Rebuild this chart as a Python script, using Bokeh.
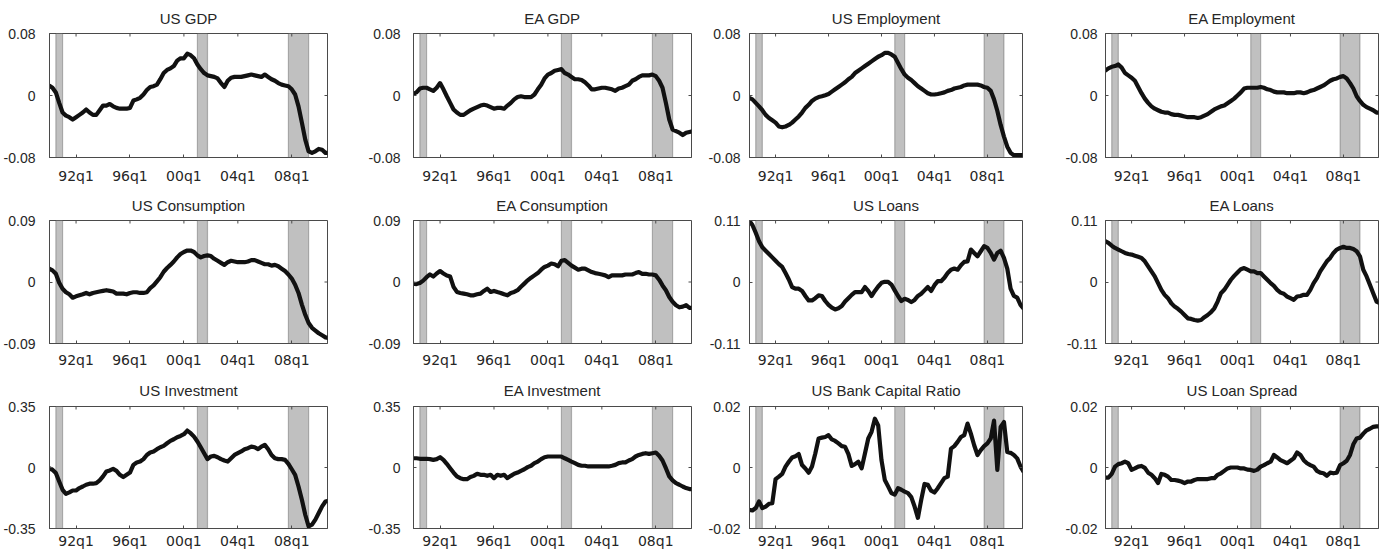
from bokeh.plotting import figure
from bokeh.models import FixedTicker, LinearAxis, BoxAnnotation, Range1d
from bokeh.layouts import column, row
from bokeh.embed import file_html
from bokeh.resources import INLINE

# ---------------- data ----------------
# quarterly observations 1990q1 ... 2010q4 (x as decimal years)
years = list(range(1990, 2011))
dates = [y + q / 4 for y in years for q in range(4)]

titles = ["US GDP", "EA GDP", "US Employment", "EA Employment",
          "US Consumption", "EA Consumption", "US Loans", "EA Loans",
          "US Investment", "EA Investment", "US Bank Capital Ratio", "US Loan Spread"]
y_limits = [0.08, 0.08, 0.08, 0.08, 0.09, 0.09, 0.11, 0.11, 0.35, 0.35, 0.02, 0.02]
y_tick_labels = [["-0.08", "0", "0.08"]] * 4 + [["-0.09", "0", "0.09"]] * 2 + \
                [["-0.11", "0", "0.11"]] * 2 + [["-0.35", "0", "0.35"]] * 2 + \
                [["-0.02", "0", "0.02"]] * 2

x_tick_values = [1992, 1996, 2000, 2004, 2008]
x_tick_labels = ["92q1", "96q1", "00q1", "04q1", "08q1"]

# recession periods (start / end)
rec_start = [1990.5, 2001.0, 2007.75]
rec_end = [1991.0, 2001.75, 2009.25]

us_gdp = [0.013, 0.010, 0.004, -0.0095,
          -0.022, -0.026, -0.028, -0.031,
          -0.028, -0.025, -0.022, -0.018,
          -0.022, -0.025, -0.025, -0.019,
          -0.013, -0.013, -0.011, -0.014,
          -0.016, -0.017, -0.017, -0.017,
          -0.016, -0.0065, -0.005, -0.003,
          0.0013, 0.007, 0.011, 0.012,
          0.014, 0.021, 0.029, 0.033,
          0.035, 0.038, 0.045, 0.048,
          0.048, 0.054, 0.052, 0.048,
          0.040, 0.034, 0.029, 0.026,
          0.025, 0.024, 0.022, 0.016,
          0.011, 0.019, 0.023, 0.024,
          0.024, 0.024, 0.025, 0.026,
          0.027, 0.026, 0.025, 0.024,
          0.027, 0.024, 0.021, 0.019,
          0.016, 0.014, 0.013, 0.012,
          0.008, 0.0013, -0.014, -0.035,
          -0.057, -0.072, -0.074, -0.072,
          -0.069, -0.070, -0.074, -0.074]

ea_gdp = [0.002, 0.004, 0.009, 0.010,
          0.010, 0.008, 0.006, 0.010,
          0.016, 0.008, -0.001, -0.0095,
          -0.018, -0.022, -0.025, -0.025,
          -0.022, -0.019, -0.017, -0.015,
          -0.013, -0.012, -0.013, -0.015,
          -0.017, -0.016, -0.016, -0.017,
          -0.013, -0.0095, -0.005, -0.002,
          -0.001, -0.002, -0.002, -0.002,
          0.0013, 0.008, 0.014, 0.022,
          0.027, 0.029, 0.032, 0.033,
          0.034, 0.029, 0.027, 0.024,
          0.021, 0.021, 0.020, 0.017,
          0.013, 0.008, 0.008, 0.009,
          0.010, 0.010, 0.009, 0.008,
          0.006, 0.009, 0.010, 0.012,
          0.014, 0.019, 0.021, 0.024,
          0.026, 0.026, 0.026, 0.027,
          0.025, 0.019, 0.010, -0.0095,
          -0.031, -0.044, -0.046, -0.048,
          -0.051, -0.048, -0.047, -0.046]

us_emp = [-0.003, -0.005, -0.0095, -0.014,
          -0.019, -0.025, -0.029, -0.032,
          -0.035, -0.040, -0.041, -0.040,
          -0.038, -0.035, -0.031, -0.027,
          -0.022, -0.016, -0.012, -0.007,
          -0.004, -0.002, -0.001, 0.0004,
          0.002, 0.005, 0.008, 0.011,
          0.014, 0.017, 0.021, 0.024,
          0.029, 0.032, 0.035, 0.038,
          0.041, 0.044, 0.047, 0.050,
          0.052, 0.055, 0.055, 0.053,
          0.050, 0.042, 0.034, 0.027,
          0.023, 0.020, 0.016, 0.012,
          0.009, 0.006, 0.003, 0.0013,
          0.0013, 0.002, 0.003, 0.004,
          0.006, 0.007, 0.009, 0.010,
          0.011, 0.013, 0.014, 0.014,
          0.014, 0.014, 0.013, 0.011,
          0.010, 0.006, -0.005, -0.020,
          -0.038, -0.053, -0.066, -0.074,
          -0.077, -0.077, -0.077, -0.077]

ea_emp = [0.032, 0.035, 0.037, 0.038,
          0.040, 0.036, 0.029, 0.026,
          0.023, 0.019, 0.011, 0.003,
          -0.004, -0.0095, -0.014, -0.017,
          -0.019, -0.021, -0.022, -0.022,
          -0.024, -0.025, -0.025, -0.026,
          -0.027, -0.028, -0.028, -0.028,
          -0.029, -0.028, -0.026, -0.024,
          -0.021, -0.018, -0.016, -0.014,
          -0.013, -0.010, -0.007, -0.004,
          0.000, 0.004, 0.009, 0.010,
          0.010, 0.010, 0.010, 0.011,
          0.010, 0.008, 0.007, 0.005,
          0.004, 0.004, 0.004, 0.003,
          0.003, 0.003, 0.004, 0.004,
          0.003, 0.004, 0.006, 0.007,
          0.009, 0.011, 0.013, 0.016,
          0.019, 0.021, 0.022, 0.024,
          0.025, 0.022, 0.016, 0.009,
          -0.001, -0.007, -0.012, -0.015,
          -0.017, -0.019, -0.022, -0.022]

us_cons = [0.0195, 0.017, 0.012, -0.001,
           -0.010, -0.015, -0.018, -0.023,
           -0.021, -0.0195, -0.018, -0.016,
           -0.018, -0.016, -0.015, -0.014,
           -0.013, -0.012, -0.013, -0.014,
           -0.017, -0.017, -0.017, -0.018,
           -0.016, -0.015, -0.015, -0.016,
           -0.016, -0.015, -0.009, -0.005,
           0.001, 0.007, 0.015, 0.0205,
           0.025, 0.030, 0.036, 0.041,
           0.044, 0.046, 0.046, 0.044,
           0.039, 0.036, 0.038, 0.039,
           0.038, 0.034, 0.031, 0.028,
           0.025, 0.029, 0.031, 0.030,
           0.029, 0.029, 0.029, 0.030,
           0.032, 0.032, 0.030, 0.028,
           0.026, 0.026, 0.024, 0.025,
           0.023, 0.0195, 0.016, 0.011,
           0.005, -0.004, -0.016, -0.033,
           -0.048, -0.060, -0.067, -0.071,
           -0.075, -0.078, -0.081, -0.082]

ea_cons = [-0.0024, -0.003, -0.0015, 0.002,
           0.007, 0.011, 0.008, 0.0125,
           0.016, 0.0125, 0.0095, 0.008,
           -0.007, -0.0146, -0.016, -0.017,
           -0.018, -0.0195, -0.0195, -0.018,
           -0.017, -0.013, -0.0097, -0.0146,
           -0.013, -0.0146, -0.016, -0.018,
           -0.0195, -0.016, -0.0146, -0.012,
           -0.007, -0.0024, 0.0024, 0.0063,
           0.0097, 0.013, 0.018, 0.022,
           0.024, 0.027, 0.026, 0.023,
           0.031, 0.032, 0.028, 0.024,
           0.021, 0.018, 0.0195, 0.0195,
           0.017, 0.0146, 0.013, 0.012,
           0.011, 0.0097, 0.007, 0.0097,
           0.0097, 0.0097, 0.0097, 0.011,
           0.011, 0.011, 0.013, 0.0146,
           0.012, 0.012, 0.011, 0.011,
           0.0097, 0.0034, -0.005, -0.012,
           -0.022, -0.029, -0.034, -0.037,
           -0.036, -0.034, -0.038, -0.038]

us_loans = [0.110, 0.102, 0.088, 0.073,
            0.062, 0.056, 0.050, 0.044,
            0.038, 0.032, 0.027, 0.016,
            0.0045, -0.009, -0.012, -0.012,
            -0.016, -0.025, -0.033, -0.033,
            -0.029, -0.024, -0.025, -0.034,
            -0.041, -0.046, -0.049, -0.047,
            -0.043, -0.035, -0.029, -0.023,
            -0.018, -0.018, -0.018, -0.009,
            -0.016, -0.025, -0.016, -0.008,
            -0.0015, 0.0003, 0.0003, -0.0045,
            -0.015, -0.025, -0.034, -0.030,
            -0.032, -0.036, -0.032, -0.025,
            -0.021, -0.015, -0.009, -0.016,
            -0.0057, 0.0015, 0.0015, 0.0075,
            0.016, 0.022, 0.024, 0.022,
            0.030, 0.036, 0.037, 0.058,
            0.052, 0.046, 0.055, 0.064,
            0.061, 0.052, 0.040, 0.052,
            0.056, 0.043, 0.024, -0.012,
            -0.025, -0.028, -0.041, -0.048]

ea_loans = [0.073, 0.070, 0.065, 0.061,
            0.058, 0.055, 0.052, 0.050,
            0.049, 0.047, 0.045, 0.043,
            0.037, 0.028, 0.019, 0.010,
            -0.002, -0.014, -0.023, -0.029,
            -0.038, -0.044, -0.048, -0.053,
            -0.059, -0.065, -0.066, -0.068,
            -0.069, -0.068, -0.063, -0.059,
            -0.054, -0.047, -0.035, -0.020,
            -0.014, -0.005, 0.004, 0.011,
            0.017, 0.023, 0.025, 0.022,
            0.019, 0.019, 0.016, 0.016,
            0.010, 0.004, -0.002, -0.007,
            -0.014, -0.019, -0.021, -0.026,
            -0.029, -0.032, -0.026, -0.025,
            -0.023, -0.023, -0.014, -0.002,
            0.007, 0.019, 0.028, 0.037,
            0.043, 0.052, 0.058, 0.061,
            0.063, 0.061, 0.061, 0.059,
            0.055, 0.046, 0.022, 0.010,
            -0.005, -0.020, -0.035, -0.038]

us_inv = [-0.004, -0.013, -0.032, -0.080,
          -0.128, -0.151, -0.143, -0.132,
          -0.132, -0.118, -0.109, -0.099,
          -0.093, -0.093, -0.090, -0.074,
          -0.051, -0.023, -0.017, -0.008,
          -0.019, -0.042, -0.055, -0.042,
          -0.029, 0.015, 0.029, 0.034,
          0.048, 0.072, 0.086, 0.092,
          0.105, 0.116, 0.124, 0.139,
          0.153, 0.162, 0.174, 0.181,
          0.191, 0.212, 0.197, 0.177,
          0.149, 0.116, 0.082, 0.048,
          0.063, 0.067, 0.059, 0.048,
          0.040, 0.034, 0.053, 0.072,
          0.082, 0.092, 0.105, 0.111,
          0.120, 0.116, 0.105, 0.120,
          0.130, 0.105, 0.072, 0.053,
          0.048, 0.048, 0.044, 0.021,
          -0.010, -0.042, -0.109, -0.185,
          -0.271, -0.338, -0.328, -0.299,
          -0.261, -0.223, -0.195, -0.190]

ea_inv = [0.053, 0.053, 0.050, 0.050,
          0.050, 0.048, 0.044, 0.048,
          0.059, 0.044, 0.021, -0.004,
          -0.029, -0.051, -0.061, -0.067,
          -0.067, -0.055, -0.048, -0.036,
          -0.042, -0.042, -0.048, -0.042,
          -0.061, -0.042, -0.048, -0.042,
          -0.061, -0.048, -0.036, -0.029,
          -0.019, -0.010, 0.002, 0.010,
          0.025, 0.034, 0.048, 0.059,
          0.063, 0.063, 0.063, 0.063,
          0.063, 0.053, 0.044, 0.034,
          0.025, 0.015, 0.010, 0.010,
          0.006, 0.006, 0.006, 0.006,
          0.006, 0.006, 0.006, 0.010,
          0.015, 0.025, 0.029, 0.029,
          0.040, 0.048, 0.063, 0.072,
          0.078, 0.082, 0.078, 0.082,
          0.086, 0.067, 0.040, -0.004,
          -0.051, -0.074, -0.090, -0.099,
          -0.109, -0.118, -0.124, -0.124]

us_cap = [-0.0139, -0.0141, -0.0133, -0.0111,
          -0.0133, -0.0128, -0.0119, -0.0117,
          -0.0038, -0.0030, -0.0021, 0.0003,
          0.0019, 0.0033, 0.0037, 0.0044,
          0.0008, -0.0003, -0.0017, 0.0003,
          0.0046, 0.0095, 0.0098, 0.0100,
          0.0106, 0.0092, 0.0087, 0.0079,
          0.0070, 0.0068, 0.0044, 0.0005,
          0.0011, 0.0019, -0.0003, 0.0046,
          0.0095, 0.0117, 0.0160, 0.0138,
          0.0024, -0.0041, -0.0062, -0.0084,
          -0.0089, -0.0068, -0.0073, -0.0079,
          -0.0084, -0.0097, -0.0128, -0.0165,
          -0.0106, -0.0054, -0.0057, -0.0076,
          -0.0082, -0.0068, -0.0051, -0.0035,
          -0.0030, 0.0062, 0.0070, 0.0084,
          0.0100, 0.0106, 0.0144, 0.0111,
          0.0073, 0.0041, 0.0057, 0.0070,
          0.0079, 0.0095, 0.0154, -0.0008,
          0.0133, 0.0149, 0.0051, 0.0048,
          0.0041, 0.0030, 0.0003, -0.0015]

us_spread = [-0.0033, -0.0033, -0.0021, 0.0003,
             0.0011, 0.0014, 0.0019, 0.0014,
             -0.0008, -0.0003, 0.0003, 0.0005,
             -0.0001, -0.0017, -0.0024, -0.0035,
             -0.0051, -0.0021, -0.0024, -0.0030,
             -0.0041, -0.0041, -0.0043, -0.0046,
             -0.0051, -0.0046, -0.0046, -0.0041,
             -0.0038, -0.0038, -0.0038, -0.0038,
             -0.0035, -0.0035, -0.0024, -0.0019,
             -0.0011, -0.0003, 0.0000, 0.0000,
             0.0000, -0.0003, -0.0003, -0.0007,
             -0.0008, -0.0011, -0.0007, 0.0003,
             0.0008, 0.0014, 0.0019, 0.0041,
             0.0033, 0.0024, 0.0019, 0.0014,
             0.0022, 0.0030, 0.0049, 0.0041,
             0.0024, 0.0014, 0.0008, 0.0003,
             -0.0011, -0.0017, -0.0019, -0.0027,
             -0.0017, -0.0019, -0.0017, 0.0008,
             0.0014, 0.0022, 0.0041, 0.0076,
             0.0095, 0.0098, 0.0111, 0.0122,
             0.0127, 0.0133, 0.0135, 0.0135]

series = [us_gdp, ea_gdp, us_emp, ea_emp,
          us_cons, ea_cons, us_loans, ea_loans,
          us_inv, ea_inv, us_cap, us_spread]

# ---------------- layout / style ----------------
FONT = "Liberation Sans"
XFONT = "DejaVu Sans"
FRAME_COL = "#4a4a4a"
TEXT_COL = "#262626"
TICK_LEN = 3  # px

col_frame_w = [278, 278, 273, 273]
col_border_l = [44, 76, 48, 73]
col_border_r = [10, 10, 10, 8]
ylab_standoff = [14, 13, 9, 8]
row_frame_h = [124, 123, 122]
row_border_t = [33, 34, 36]
row_border_b = [27, 26, 20]
xlab_standoff = [10, 8, 4]
title_standoff = [14, 14, 16]

X_START, X_END = 1990.03, 2010.65


def make_panel(i):
    r, c = divmod(i, 4)
    lim = y_limits[i]
    yt = [-lim, 0, lim]
    fw, fh = col_frame_w[c], row_frame_h[r]
    p = figure(frame_width=fw, frame_height=fh,
               x_range=Range1d(X_START, X_END), y_range=Range1d(-lim, lim),
               output_backend="svg", toolbar_location=None,
               min_border_left=col_border_l[c], min_border_right=col_border_r[c],
               min_border_top=row_border_t[r], min_border_bottom=row_border_b[r],
               x_axis_type=None, y_axis_type=None)
    p.xgrid.visible = False
    p.ygrid.visible = False
    p.outline_line_color = FRAME_COL
    p.outline_line_width = 1
    p.background_fill_color = "white"
    p.border_fill_color = "white"

    p.title.text = titles[i]
    p.title.text_font = FONT
    p.title.text_font_size = "15px"
    p.title.text_font_style = "normal"
    p.title.text_color = TEXT_COL
    p.title.text_line_height = 1.0
    p.title.align = "center"
    p.title.standoff = title_standoff[r]

    # recession bands
    for s, e in zip(rec_start, rec_end):
        p.add_layout(BoxAnnotation(left=s, right=e, fill_color="#c0c0c0", fill_alpha=1.0,
                                   line_color="#2e2e2e", line_width=1.2, level="underlay"))

    p.line(dates, series[i], line_color="#111111", line_width=4.2, line_join="round")

    # inward ticks on the top and right edges of the box
    dy = 2 * lim * TICK_LEN / fh
    dx = (X_END - X_START) * TICK_LEN / fw
    p.segment(x0=x_tick_values, x1=x_tick_values, y0=[lim] * len(x_tick_values),
              y1=[lim - dy] * len(x_tick_values), line_color=FRAME_COL, line_width=1)
    p.segment(x0=[X_END] * len(yt), x1=[X_END - dx] * len(yt), y0=yt, y1=yt,
              line_color=FRAME_COL, line_width=1)

    common = dict(major_tick_in=TICK_LEN, major_tick_out=0, minor_tick_line_color=None,
                  major_tick_line_color=FRAME_COL)

    xb = LinearAxis(ticker=FixedTicker(ticks=x_tick_values), axis_line_color=FRAME_COL,
                    major_label_overrides=dict(zip(x_tick_values, x_tick_labels)),
                    major_label_text_font=XFONT, major_label_text_font_size="14px",
                    major_label_text_color=TEXT_COL,
                    major_label_standoff=xlab_standoff[r], **common)
    p.add_layout(xb, "below")

    yl = LinearAxis(ticker=FixedTicker(ticks=yt), axis_line_color=FRAME_COL,
                    major_label_overrides=dict(zip(yt, y_tick_labels[i])),
                    major_label_text_font=FONT, major_label_text_font_size="14px",
                    major_label_text_color=TEXT_COL,
                    major_label_standoff=ylab_standoff[c], **common)
    p.add_layout(yl, "left")
    return p


panels = [make_panel(i) for i in range(12)]
grid = column(*[row(*panels[k * 4:(k + 1) * 4], spacing=0) for k in range(3)], spacing=0)

open("out.html", "w").write(file_html(grid, INLINE))
